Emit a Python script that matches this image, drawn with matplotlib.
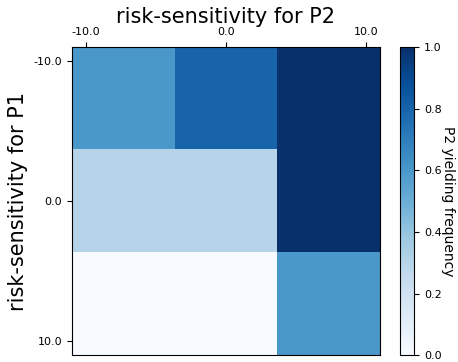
import matplotlib
matplotlib.use('Agg')
import matplotlib.pyplot as plt
import numpy as np

# yielding frequency of P2 for each (P1, P2) risk-sensitivity pair
p1_labels = ['-10.0', '0.0', '10.0']
p2_labels = ['-10.0', '0.0', '10.0']
row_m10 = [0.60, 0.80, 1.00]
row_0 = [0.30, 0.30, 1.00]
row_p10 = [0.00, 0.00, 0.60]

freq = np.array([row_m10, row_0, row_p10])

fig = plt.figure(figsize=(4.58, 3.62), dpi=100)
ax = fig.add_axes([0.157, 0.019, 0.672, 0.851])
cax = fig.add_axes([0.873, 0.019, 0.031, 0.851])

im = ax.imshow(freq, cmap='Blues', vmin=0, vmax=1, aspect='auto')

# ticks sit a little inside the outer cells
tick_pos = np.linspace(-0.364, 2.364, 3)
ax.xaxis.tick_top()
ax.set_xticks(tick_pos)
ax.set_xticklabels(p2_labels, fontsize=8)
ax.set_yticks(tick_pos)
ax.set_yticklabels(p1_labels, fontsize=8)
ax.set_title('risk-sensitivity for P2', fontsize=15, pad=3)
ax.set_ylabel('risk-sensitivity for P1', fontsize=15)

cb = fig.colorbar(im, cax=cax)
cb.ax.tick_params(labelsize=8)
cb.set_label('P2 yielding frequency', rotation=270, labelpad=10, fontsize=10)

fig.savefig('out.png', dpi=100)
